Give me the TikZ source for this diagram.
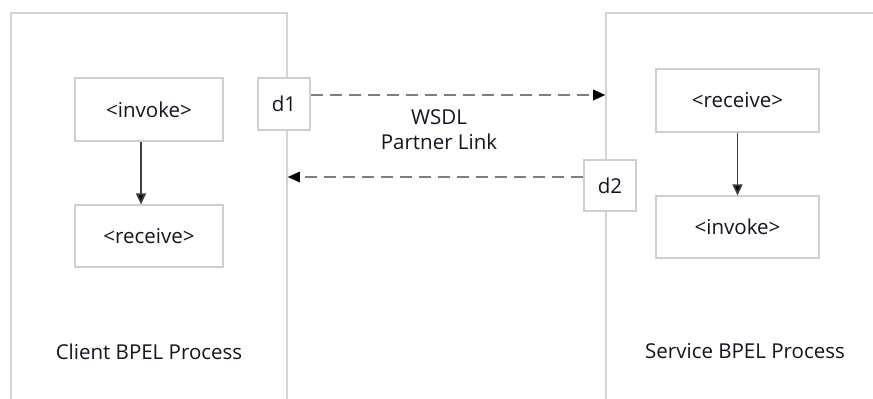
\documentclass[tikz,border=0pt]{standalone}
\usepackage{fontspec}
\setmainfont{Open Sans}
\usetikzlibrary{arrows.meta,shadows}
\definecolor{frame}{HTML}{D4D4D4}
\definecolor{boxline}{HTML}{CFCFCF}
\definecolor{dashgray}{HTML}{7F7F7F}
\definecolor{solidgray}{HTML}{3F3F3F}
\definecolor{ink}{HTML}{14141E}
\tikzset{
  x=1pt, y=-1pt,
  every node/.style={font=\fontsize{20.5}{25}\selectfont, text=ink},
  process/.style={draw=frame, line width=1.6pt, rectangle, inner sep=0pt},
  activity/.style={draw=boxline, line width=1.2pt, fill=white, rectangle, inner sep=0pt,
    drop shadow={opacity=0.18, shadow xshift=1.2pt, shadow yshift=-1.2pt, fill=blue!40!gray}},
  doc/.style={activity, minimum width=52pt, minimum height=52pt},
  flow/.style={draw=solidgray, line width=1.6pt, -{Triangle[length=11pt,width=10pt,fill=black]}},
  link/.style={draw=dashgray, line width=2.8pt, dash pattern=on 12pt off 7pt,
    -{Triangle[length=12pt,width=11pt,fill=black,line width=0pt]}},
}
\begin{document}
\begin{tikzpicture}
\useasboundingbox (0,0) rectangle (873,399);
\clip (0,0) rectangle (873,399);
\fill[white] (0,0) rectangle (873,399);

% the two process containers (open at the bottom / right edge)
\node[process, minimum width=276pt, minimum height=420pt] (client) at (149,223) {};
\node[process, minimum width=300pt, minimum height=420pt] (service) at (756,223) {};

% client activities
\node[activity, minimum width=148pt, minimum height=63pt] (cinv) at (149,109.5) {<invoke>};
\node[activity, minimum width=148pt, minimum height=62pt] (crcv) at (149,236) {<receive>};

% service activities
\node[activity, minimum width=163pt, minimum height=63pt] (srcv) at (737.5,100.5) {<receive>};
\node[activity, minimum width=163pt, minimum height=62pt] (sinv) at (737.5,227) {<invoke>};

% WSDL documents
\node[doc] (d1) at (284,104) {d1};
\node[doc, minimum height=51pt] (d2) at (610,185.5) {d2};

% labels
\node[align=center] (wsdl) at (439,129.5) {WSDL\\Partner Link};
\node (clab) at (149,352) {Client BPEL Process};
\node (slab) at (745,351) {Service BPEL Process};

% control flow inside each process
\draw[flow] ([xshift=-8pt]cinv.south) -- ([xshift=-8pt]crcv.north);
\draw[flow] (srcv.south) -- (sinv.north);

% partner link messages
\draw[link] ([yshift=9pt]d1.east) -- ([yshift=9pt]d1.east -| service.west);
\draw[link] ([yshift=8.5pt]d2.west) -- ([yshift=8.5pt]d2.west -| client.east);
\end{tikzpicture}
\end{document}
